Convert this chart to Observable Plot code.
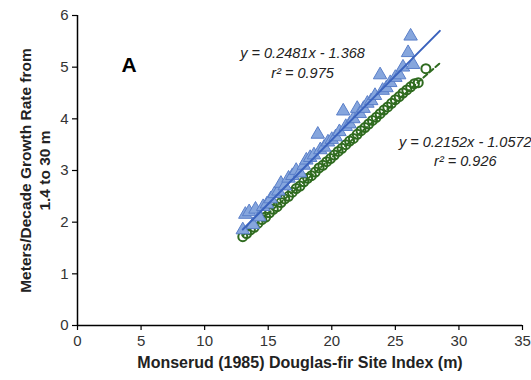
<!DOCTYPE html>
<html><head><meta charset="utf-8">
<script src="https://cdn.jsdelivr.net/npm/d3@7"></script>
<script src="https://cdn.jsdelivr.net/npm/@observablehq/plot@0.6"></script>
<style>body{margin:0;background:#fff;font-family:"Liberation Sans",Arial,sans-serif}</style>
</head><body><div id="chart"></div>
<script>
const blueX = [13.0,13.2,13.5,13.8,14.0,14.3,14.6,14.9,15.2,15.5,15.8,16.0,16.3,16.6,16.9,17.2,17.5,17.8,18.0,18.3,18.6,18.9,19.1,19.4,19.7,20.0,20.3,20.6,20.9,21.1,21.4,21.7,22.0,22.2,22.5,22.8,23.1,23.4,23.8,24.0,24.3,24.6,25.0,25.3,25.6,26.0,26.2,26.4];
const blueY = [1.85,2.15,2.2,1.95,2.25,2.1,2.3,2.35,2.45,2.55,2.6,2.75,2.7,2.85,2.9,3.0,2.95,3.1,3.2,3.25,3.3,3.7,3.4,3.45,3.55,3.6,3.65,3.75,4.15,3.85,3.9,4.0,4.2,4.1,4.2,4.3,4.35,4.45,4.85,4.55,4.6,4.7,4.8,4.85,5.0,5.28,5.6,5.05];
const greenX = [13.0,13.3,13.6,13.9,14.2,14.5,14.8,15.1,15.4,15.7,16.0,16.3,16.6,16.9,17.2,17.5,17.8,18.1,18.4,18.7,19.0,19.3,19.6,19.9,20.2,20.5,20.8,21.1,21.4,21.7,22.0,22.3,22.6,22.9,23.2,23.5,23.8,24.1,24.4,24.7,25.0,25.3,25.6,25.9,26.2,26.5,26.8,27.4];
const greenY = [1.72,1.78,1.85,1.9,1.98,2.05,2.1,2.18,2.25,2.3,2.38,2.45,2.5,2.58,2.65,2.7,2.78,2.85,2.9,2.97,3.05,3.1,3.17,3.23,3.3,3.37,3.43,3.5,3.57,3.62,3.7,3.77,3.83,3.9,3.97,4.03,4.1,4.17,4.23,4.3,4.37,4.43,4.5,4.56,4.62,4.68,4.7,4.97];
const fitSeries = ["blue","green"];
const fitSlope = [0.2481, 0.2152];
const fitIntercept = [-1.368, -1.0572];
const fitRange = [[13, 28.5], [13, 28.5]];
const xTicks = [0,5,10,15,20,25,30,35];
const yTicks = [0,1,2,3,4,5,6];
const annoText = ["y = 0.2481x - 1.368", "r² = 0.975", "y = 0.2152x - 1.0572", "r² = 0.926"];
const annoX = [17.7, 17.7, 30.5, 30.5];
const annoY = [5.27, 4.88, 3.54, 3.17];

const blue = blueX.map((x,i)=>({x, y: blueY[i]}));
const green = greenX.map((x,i)=>({x, y: greenY[i]}));
const fits = fitSeries.map((s,i)=>fitRange[i].map(x=>({s, x, y: fitSlope[i]*x + fitIntercept[i]})));
const anno = annoText.map((t,i)=>({t, x: annoX[i], y: annoY[i]}));

const chart = Plot.plot({
  width: 531, height: 380,
  marginLeft: 77, marginRight: 9, marginTop: 15, marginBottom: 55,
  style: {fontFamily: "Liberation Sans, Arial, sans-serif", fontSize: "14px", background: "#fff", color: "#000"},
  x: {domain: [0,35]},
  y: {domain: [0,6]},
  marks: [
    Plot.axisX({ticks: xTicks, tickFormat: d3.format("d"), tickSize: 5, tickPadding: 5, fontSize: 15, label: null, stroke: "#000", fill: "#333", strokeWidth: 1.2}),
    Plot.axisY({ticks: yTicks, tickFormat: d3.format("d"), tickSize: 5, tickPadding: 4, fontSize: 15, label: null, stroke: "#000", fill: "#333", strokeWidth: 1.2}),
    Plot.ruleX([0], {stroke: "#000", strokeWidth: 1.5}),
    Plot.ruleY([0], {stroke: "#000", strokeWidth: 1.5}),
    Plot.dot(green, {x: "x", y: "y", r: 4.5, stroke: "#2f6b1f", strokeWidth: 2, fill: "none"}),
    Plot.line(fits[1], {x: "x", y: "y", stroke: "#2f6b1f", strokeWidth: 2, strokeDasharray: "5,3"}),
    Plot.dot(blue, {x: "x", y: "y", symbol: "triangle", r: 5, fill: "#86a6dd", stroke: "#5a7fc9", strokeWidth: 1}),
    Plot.line(fits[0], {x: "x", y: "y", stroke: "#3a62bd", strokeWidth: 2}),
    Plot.text(anno, {x: "x", y: "y", text: "t", fontStyle: "italic", fontSize: 14.5, fill: "#222"}),
    Plot.text(["A"], {frameAnchor: "top-left", dx: 44, dy: 42, fontSize: 21, fontWeight: "bold", fill: "#000"}),
    Plot.text(["Monserud (1985) Douglas-fir Site Index (m)"], {frameAnchor: "bottom", dy: 42, fontSize: 16, fontWeight: "bold", fill: "#222"}),
    Plot.text(["Meters/Decade Growth Rate from\n1.4 to 30 m"], {frameAnchor: "left", textAnchor: "middle", dx: -43, rotate: -90, fontSize: 15.5, fontWeight: "bold", lineHeight: 1.2, fill: "#222"})
  ]
});
document.getElementById("chart").appendChild(chart);
</script>
</body></html>
